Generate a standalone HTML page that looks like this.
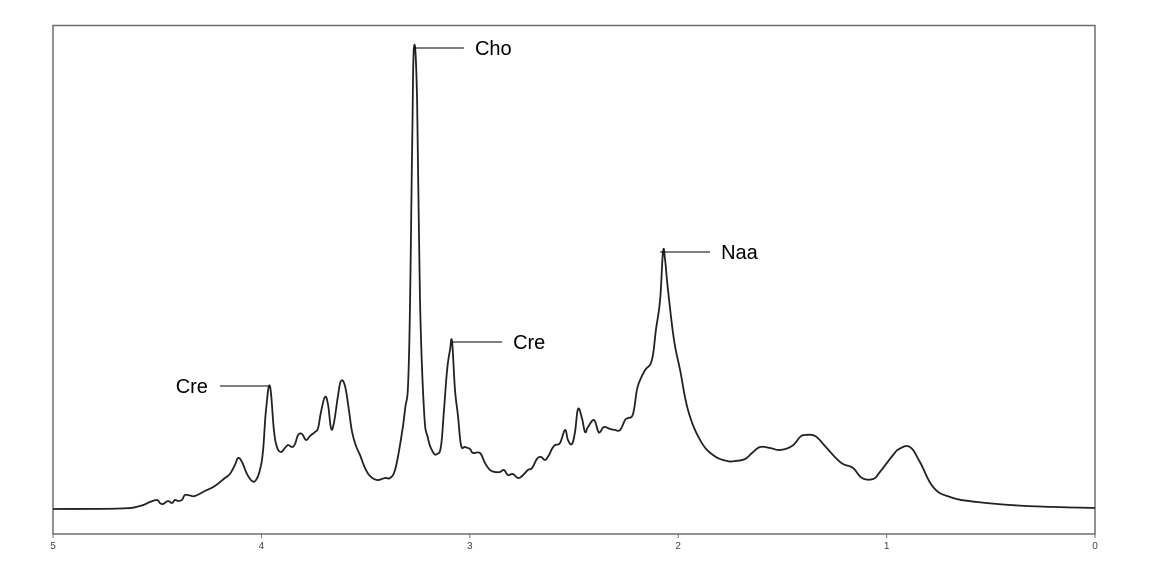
<!DOCTYPE html>
<html><head><meta charset="utf-8">
<style>
html,body{margin:0;padding:0;background:#fff;width:1152px;height:576px;overflow:hidden}
svg{display:block;font-family:"Liberation Sans",Arial,sans-serif}
</style></head>
<body>
<svg id="chart" width="1152" height="576">
  <rect x="53" y="25.5" width="1042" height="508.5" fill="none" stroke="#6e6e6e" stroke-width="1.5"/>
  <g id="ticks"></g>
  <path id="line" fill="none" stroke="#222" stroke-width="1.8" stroke-linejoin="round"/>
  <g id="labels"></g>
</svg>
<script>
const ppm = [5.000,4.679,4.583,4.535,4.501,4.487,4.472,4.448,4.429,4.415,4.400,4.381,4.367,4.343,4.319,4.271,4.223,4.175,4.151,4.127,4.112,4.093,4.069,4.045,4.026,4.007,3.992,3.978,3.959,3.940,3.925,3.906,3.887,3.872,3.853,3.839,3.824,3.805,3.786,3.767,3.743,3.728,3.714,3.695,3.680,3.666,3.652,3.632,3.618,3.599,3.580,3.565,3.546,3.527,3.503,3.479,3.445,3.407,3.383,3.359,3.335,3.311,3.292,3.277,3.268,3.253,3.239,3.220,3.201,3.177,3.157,3.138,3.124,3.109,3.095,3.085,3.071,3.057,3.042,3.023,2.999,2.985,2.951,2.927,2.903,2.879,2.855,2.836,2.817,2.793,2.769,2.749,2.721,2.701,2.678,2.658,2.639,2.620,2.606,2.591,2.567,2.543,2.529,2.510,2.495,2.481,2.462,2.447,2.433,2.404,2.385,2.375,2.356,2.327,2.303,2.279,2.255,2.241,2.217,2.198,2.183,2.159,2.126,2.107,2.087,2.073,2.063,2.049,2.020,1.991,1.953,1.895,1.833,1.766,1.727,1.679,1.646,1.607,1.559,1.511,1.454,1.415,1.391,1.343,1.296,1.248,1.209,1.161,1.118,1.065,1.032,0.969,0.940,0.888,0.840,0.777,0.696,0.566,0.326,0.000];
const intensity = [25,25.5,28,32,34,31,30,33,31,34,33,34,39,38.5,38,43,48,56,60,69,76,72,60,53,54,64,84,124,148,104,87,82,86,89,87,90,99,100,94,98,102,106,122,137,129,106,111,139,153,148,124,102,88,79,66,58,54,56,56,64,89,124,174,384,486,434,234,124,96,82,80,88,124,164,184,192,144,119,89,87,85,81,81,71,64,62,62,64,59,60,56,58,64,66,75,77,74,79,85,89,91,104,94,90,102,125,116,102,107,114,103,102,107,105,104,104,114,116,120,144,154,164,174,204,234,282,274,244,194,164,124,94,79,73,73,75,81,87,86,84,88,97,99,98,88,77,70,66,56,55,62,79,85,87,72,47,37,32,28,26,25];
const tickValues = [5,4,3,2,1,0];
const tickLabels = ["5","4","3","2","1","0"];
const peakNames = ["Cre","Cho","Cre","Naa"];
const peakPpm = [3.959,3.268,3.085,2.087];
const peakIntensity = [148,486,192,282];
const peakSide = [-1,1,1,1];

const X0=53,X1=1095,Y0=534,Y1=26,YMAX=508;
const xs = v => X0 + (5 - v)/5*(X1-X0);
const ys = v => Y0 - v/YMAX*(Y0-Y1);
const NS="http://www.w3.org/2000/svg";

const pts = ppm.map((p,i)=>[xs(p), ys(intensity[i])]);
let d="M"+pts[0][0].toFixed(1)+","+pts[0][1].toFixed(1);
const T=0.2;
for(let i=0;i<pts.length-1;i++){
  const p0=pts[Math.max(0,i-1)], p1=pts[i], p2=pts[i+1], p3=pts[Math.min(pts.length-1,i+2)];
  const c1x=p1[0]+(p2[0]-p0[0])*T, c1y=p1[1]+(p2[1]-p0[1])*T;
  const c2x=p2[0]-(p3[0]-p1[0])*T, c2y=p2[1]-(p3[1]-p1[1])*T;
  d+="C"+c1x.toFixed(1)+","+c1y.toFixed(1)+" "+c2x.toFixed(1)+","+c2y.toFixed(1)+" "+p2[0].toFixed(1)+","+p2[1].toFixed(1);
}
document.getElementById('line').setAttribute('d',d);

const tg=document.getElementById('ticks');
tickValues.forEach((t,i)=>{
  const x=xs(t);
  const l=document.createElementNS(NS,'line');
  l.setAttribute('x1',x);l.setAttribute('x2',x);l.setAttribute('y1',534);l.setAttribute('y2',538);
  l.setAttribute('stroke','#6e6e6e');
  
  
  tg.appendChild(l);
  const tx=document.createElementNS(NS,'text');
  tx.setAttribute('x',x);tx.setAttribute('y',549);tx.setAttribute('text-anchor','middle');
  tx.setAttribute('font-size','10');tx.setAttribute('fill','#444');
  tx.textContent=tickLabels[i];
  
  
  tg.appendChild(tx);
});

const lg=document.getElementById('labels');
peakNames.forEach((n,i)=>{
  const x=xs(peakPpm[i]), y=ys(peakIntensity[i]);
  const s=peakSide[i];
  const x2=x+s*50;
  const l=document.createElementNS(NS,'line');
  l.setAttribute('x1',x);l.setAttribute('x2',x2);l.setAttribute('y1',y);l.setAttribute('y2',y);
  l.setAttribute('stroke','#000');l.setAttribute('stroke-width','1');
  
  
  lg.appendChild(l);
  const tx=document.createElementNS(NS,'text');
  tx.setAttribute('x', s>0 ? x2+11 : x2-12);
  tx.setAttribute('y', y+7);
  tx.setAttribute('text-anchor', s>0?'start':'end');
  tx.setAttribute('font-size','20');tx.setAttribute('fill','#000');
  tx.textContent=n;
  
  
  lg.appendChild(tx);
});
</script>
</body></html>
